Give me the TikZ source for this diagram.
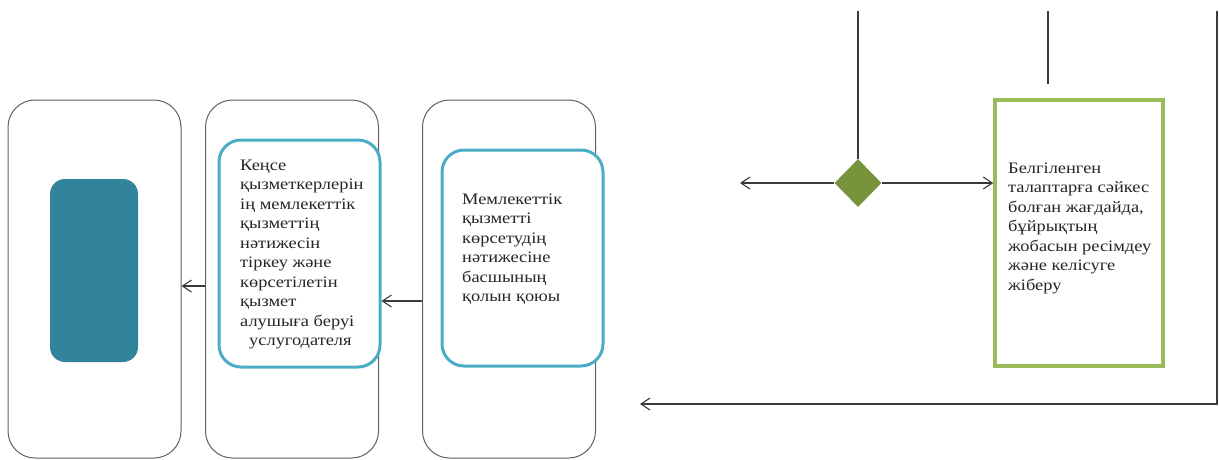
\documentclass[tikz,border=0pt]{standalone}
\usepackage{fontspec}
\setmainfont{Liberation Serif}[FakeStretch=1.15]
\usetikzlibrary{arrows.meta,positioning,shapes.geometric}

\definecolor{laneline}{HTML}{606060}
\definecolor{wire}{HTML}{3A3A3A}
\definecolor{tealfill}{HTML}{31849B}
\definecolor{tealline}{HTML}{4BACC6}
\definecolor{greenline}{HTML}{9BBB59}
\definecolor{olive}{HTML}{77933C}

\begin{document}
\begin{tikzpicture}[x=1pt,y=-1pt,
  lane/.style={draw=laneline,line width=1pt,rounded corners=27pt,
    minimum width=173pt,minimum height=358pt,inner sep=0},
  stepbox/.style={draw=tealline,line width=3pt,rounded corners=22pt,
    fill=white,minimum width=161pt,inner sep=0},
  txt/.style={anchor=west,align=left,inner sep=0,text=black!85,
    font=\fontsize{16}{19.5}\selectfont},
  wire/.style={draw=wire,line width=1.1pt},
  arr/.style={wire,-{Straight Barb[length=9pt,width=12pt,line width=1.1pt]}}]
\useasboundingbox (0,0) rectangle (1219,459);

\node[lane] (lane1) at (94.5,279) {};
\node[lane] (lane2) at (292,279) {};
\node[lane] (lane3) at (509,279) {};

\node[fill=tealfill,rounded corners=15pt,minimum width=88pt,
  minimum height=183pt,inner sep=0] (res) at (94,270.5) {};

\node[stepbox,minimum height=227pt] (box2) at (299.5,253.5) {};
\node[txt] (t2) at (240,254.5) {Кеңсе\\қызметкерлерін\\ің мемлекеттік\\қызметтің\\нәтижесін\\тіркеу және\\көрсетілетін\\қызмет\\алушыға беруі\\\hspace*{9pt}услугодателя};

\node[stepbox,minimum height=216pt] (box3) at (522.5,258) {};
\node[txt] (t3) at (462,249) {Мемлекеттік\\қызметті\\көрсетудің\\нәтижесіне\\басшының\\қолын қоюы};

\node[diamond,fill=olive,minimum width=47pt,minimum height=48pt,
  inner sep=0] (dec) at (858,183) {};

\node[draw=greenline,line width=3.5pt,minimum width=168pt,
  minimum height=266pt,inner sep=0] (green) at (1079,233) {};
\node[txt] (t4) at (1008,228) {Белгіленген\\талаптарға сәйкес\\болған жағдайда,\\бұйрықтың\\жобасын ресімдеу\\және келісуге\\жіберу};

\coordinate (top1) at (858,11);
\coordinate (top2) at (1048,11);
\coordinate (low2) at (1048,84);
\coordinate (top3) at (1217,11);
\coordinate (turn) at (1217,404);
\coordinate (back) at (640,404);
\coordinate (no) at (740,183);

\draw[arr] ([yshift=-7pt]lane2.west) -- ([yshift=-7pt]lane1.east);
\draw[arr] ([yshift=-22pt]lane3.west) -- ([yshift=-47.5pt]box2.east);
\draw[wire] (top1) -- (dec.north);
\draw[arr] (dec.west) -- (no);
\draw[arr] (dec.east) -- (dec.east -| green.west);
\draw[wire] (top2) -- (low2);
\draw[arr] (top3) -- (turn) -- (back);

\end{tikzpicture}
\end{document}
